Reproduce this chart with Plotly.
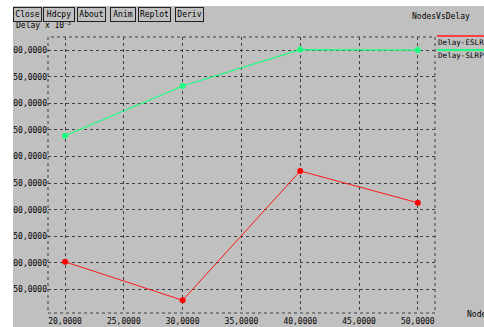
import plotly.graph_objects as go

# ---- data ----
nodes = [20, 30, 40, 50]
delay_eslr = [102, 29.7, 272.7, 213]
delay_slrp = [339, 432.5, 501, 500]
x_ticks = [20, 25, 30, 35, 40, 45, 50]
x_tick_text = ["20,0000", "25,0000", "30,0000", "35,0000", "40,0000", "45,0000", "50,0000"]
y_ticks = [50, 100, 150, 200, 250, 300, 350, 400, 450, 500]
y_tick_text = ["50,0000", "100,0000", "150,0000", "200,0000", "250,0000",
               "300,0000", "350,0000", "400,0000", "450,0000", "500,0000"]
series_names = ["Delay-ESLR", "Delay-SLRP"]
buttons = ["Close", "Hdcpy", "About", "Anim", "Replot", "Deriv"]

W, H = 484, 327
L, R, T, B = 48, 435, 37, 313
GRAY = "#c0c0c0"
RED = "#ff1a1a"
GREEN = "#1aff80"
FONT = "DejaVu Sans Mono"


def px(x):
    return (x - L) / (R - L)


def py(y):
    return (B - y) / (B - T)


fig = go.Figure()
fig.add_trace(go.Scatter(x=nodes, y=delay_eslr, mode="lines+markers", name=series_names[0],
                         line=dict(color=RED, width=1), marker=dict(color="red", size=6, symbol="circle")))
fig.add_trace(go.Scatter(x=nodes, y=delay_slrp, mode="lines+markers", name=series_names[1],
                         line=dict(color=GREEN, width=1.2), marker=dict(color=GREEN, size=6, symbol="circle")))

shapes = []
# dotted plot border
shapes.append(dict(type="rect", xref="paper", yref="paper", x0=0, x1=1, y0=0, y1=1,
                   line=dict(color="#404040", width=1, dash="dot"), layer="below"))
# legend lines
shapes.append(dict(type="line", xref="paper", yref="paper", x0=px(437), x1=px(490), y0=py(36), y1=py(36),
                   line=dict(color="#ff4040", width=2)))
shapes.append(dict(type="line", xref="paper", yref="paper", x0=px(437), x1=px(490), y0=py(50), y1=py(50),
                   line=dict(color=GREEN, width=2)))
# white window edges
shapes.append(dict(type="rect", xref="paper", yref="paper", x0=px(-5), x1=px(13), y0=py(340), y1=py(-5),
                   fillcolor="white", line=dict(width=0), layer="above"))
shapes.append(dict(type="rect", xref="paper", yref="paper", x0=px(-5), x1=px(490), y0=py(6), y1=py(-5),
                   fillcolor="white", line=dict(width=0), layer="above"))

ann = []
ann.append(dict(text="Delay x 10<sup>-3</sup>", xref="paper", yref="paper", x=px(14), y=py(25),
                xanchor="left", yanchor="middle", showarrow=False, font=dict(family=FONT, size=8, color="black")))
# buttons
bx = [(13, 42), (43, 75), (77, 106), (110, 136), (138, 171), (175, 204)]
for name, (a, b) in zip(buttons, bx):
    ann.append(dict(text=name, xref="paper", yref="paper", x=px((a + b) / 2), y=py(14.5),
                    xanchor="center", yanchor="middle", showarrow=False, width=b - a - 4, height=11,
                    bgcolor=GRAY, bordercolor="#202020", borderwidth=1, borderpad=1,
                    font=dict(family=FONT, size=8, color="black")))
ann.append(dict(text="NodesVsDelay", xref="paper", yref="paper", x=px(410), y=py(17),
                xanchor="left", yanchor="middle", showarrow=False, font=dict(family=FONT, size=8, color="black")))
ann.append(dict(text=series_names[0], xref="paper", yref="paper", x=px(436), y=py(42.5),
                xanchor="left", yanchor="middle", showarrow=False, font=dict(family=FONT, size=7.6, color="black")))
ann.append(dict(text=series_names[1], xref="paper", yref="paper", x=px(436), y=py(56),
                xanchor="left", yanchor="middle", showarrow=False, font=dict(family=FONT, size=7.6, color="black")))
ann.append(dict(text="Nodes", xref="paper", yref="paper", x=px(465), y=py(314),
                xanchor="left", yanchor="middle", showarrow=False, font=dict(family=FONT, size=8, color="black")))

fig.update_layout(
    width=W, height=H,
    margin=dict(l=L, r=W - R, t=T, b=H - B, pad=0),
    paper_bgcolor=GRAY, plot_bgcolor=GRAY,
    showlegend=False,
    shapes=shapes, annotations=ann,
    font=dict(family=FONT, size=8, color="black"),
    xaxis=dict(range=[18.55, 51.46], tickvals=x_ticks, ticktext=x_tick_text, showgrid=True,
               gridcolor="#404040", griddash="dot", gridwidth=1, zeroline=False, showline=False,
               ticks="", ticklabelstandoff=2, automargin=False, tickfont=dict(family=FONT, size=8, color="black")),
    yaxis=dict(range=[5.8, 524.6], tickvals=y_ticks, ticktext=y_tick_text, showgrid=True,
               gridcolor="#404040", griddash="dot", gridwidth=1, zeroline=False, showline=False,
               ticks="", automargin=False, tickfont=dict(family=FONT, size=8, color="black")),
)

fig.write_html("out.html")
